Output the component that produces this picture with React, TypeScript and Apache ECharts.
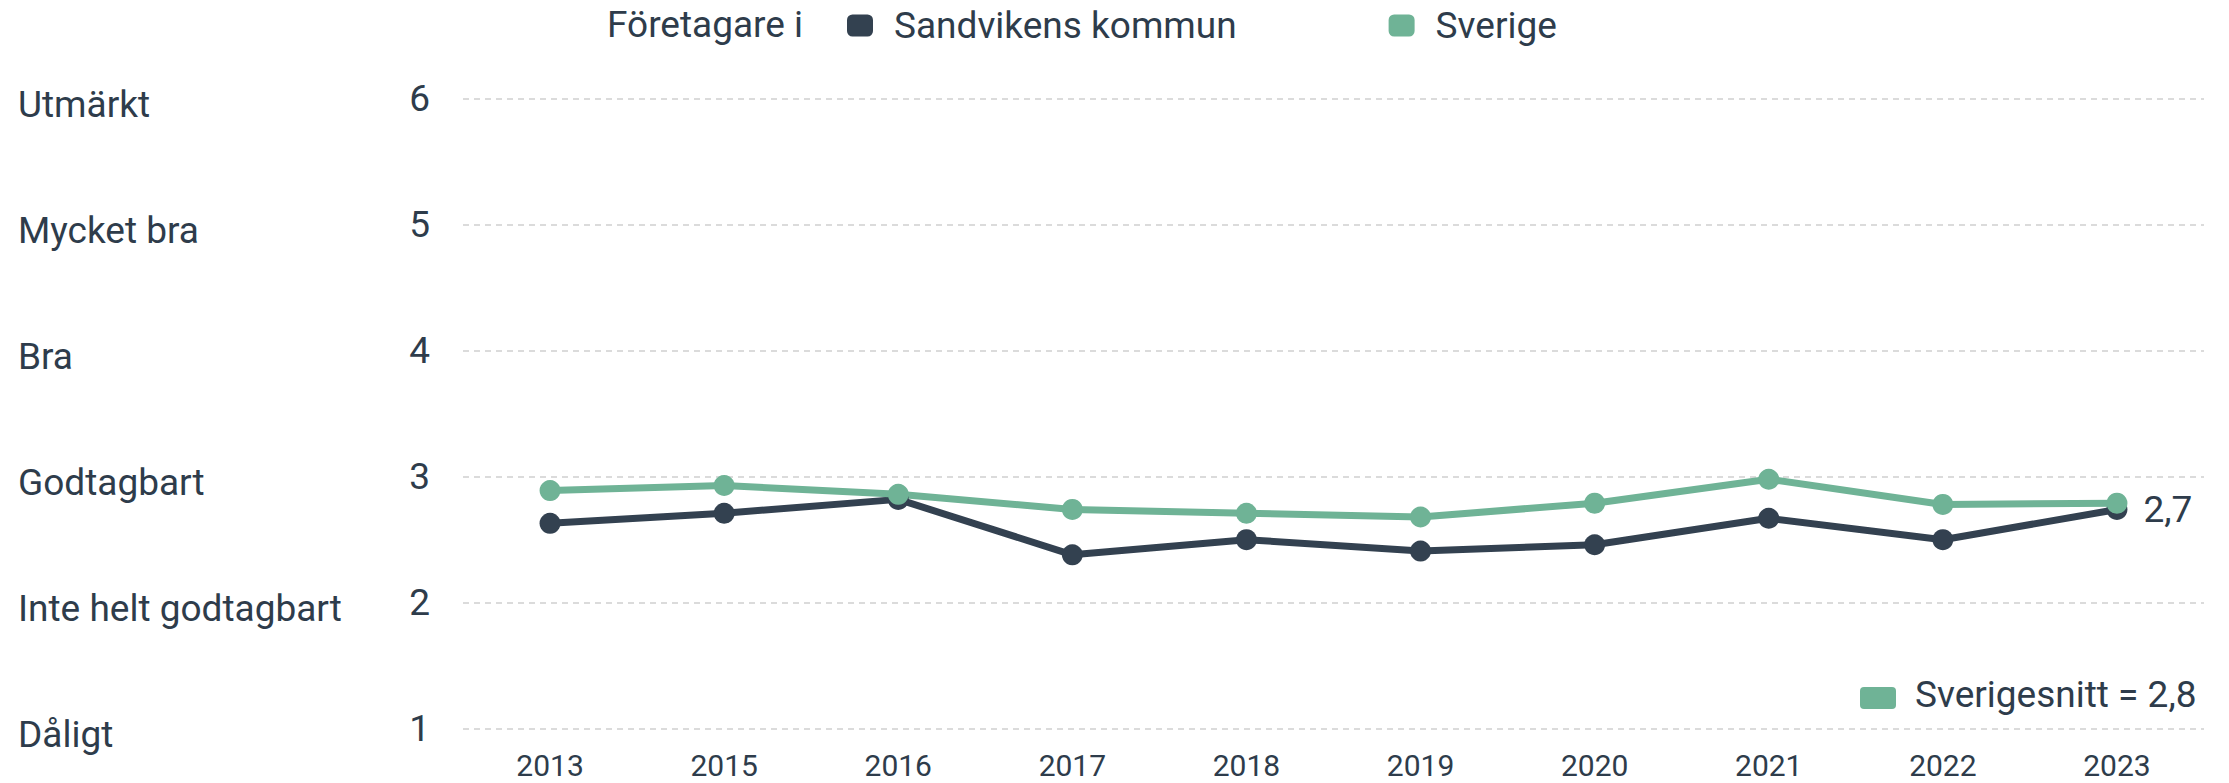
import React, { useEffect, useRef } from "react";
import * as echarts from "echarts";

const years = ["2013", "2015", "2016", "2017", "2018", "2019", "2020", "2021", "2022", "2023"];
const sandviken = [2.63, 2.71, 2.82, 2.38, 2.5, 2.41, 2.46, 2.67, 2.5, 2.74];
const sverige = [2.89, 2.93, 2.86, 2.74, 2.71, 2.68, 2.79, 2.98, 2.78, 2.79];
const gradeNames: Record<number, string> = {
  1: "Dåligt",
  2: "Inte helt godtagbart",
  3: "Godtagbart",
  4: "Bra",
  5: "Mycket bra",
  6: "Utmärkt",
};
const sverigeSnitt = 2.8;

const DARK = "#334150";
const GREEN = "#6fb396";
const TEXT = "#2e3c4b";
const FONT = "Roboto, 'Noto Sans', sans-serif";

const fmt = (v: number) => v.toFixed(1).replace(".", ",");

export default function App() {
  const ref = useRef<HTMLDivElement>(null);
  useEffect(() => {
    if (!ref.current) return;
    const chart = echarts.init(ref.current, undefined, { renderer: "svg" });
    const lastIdx = sandviken.length - 1;
    chart.setOption({
      animation: false,
      textStyle: { fontFamily: FONT },
      grid: { left: 463, right: 25, top: 98.7, bottom: 54.3, containLabel: false },
      legend: {
        left: 842,
        top: 2,
        itemWidth: 26,
        itemHeight: 22,
        itemGap: 152,
        icon: "roundRect",
        selectedMode: false,
        textStyle: { fontSize: 37, color: TEXT, fontFamily: FONT, padding: [0, 0, 0, 16] },
        data: ["Sandvikens kommun", "Sverige"],
      },
      xAxis: {
        type: "category",
        data: years,
        boundaryGap: true,
        axisLine: { show: false },
        axisTick: { show: false },
        axisLabel: { color: TEXT, fontSize: 30, lineHeight: 30, margin: 22, fontFamily: FONT },
      },
      yAxis: [
        {
          type: "value",
          min: 1,
          max: 6,
          interval: 1,
          axisLine: { show: false },
          axisTick: { show: false },
          axisLabel: { color: TEXT, fontSize: 37, margin: 33, fontFamily: FONT },
          splitLine: { lineStyle: { color: "#cfcfcf", type: [6, 5], width: 1.5 } },
        },
        {
          type: "value",
          position: "left",
          min: 1,
          max: 6,
          interval: 1,
          axisLine: { show: false },
          axisTick: { show: false },
          splitLine: { show: false },
          axisLabel: {
            color: TEXT,
            fontSize: 37,
            margin: 445,
            align: "left",
            fontFamily: FONT,
            formatter: (v: number) => (gradeNames[v] ? "{n|" + gradeNames[v] + "}" : ""),
            rich: {
              n: { fontSize: 37, color: TEXT, fontFamily: FONT, padding: [12, 0, 0, 0] },
            },
          },
        },
      ],
      series: [
        {
          name: "Sandvikens kommun",
          type: "line",
          data: sandviken.map((v, i) =>
            i === lastIdx
              ? {
                  value: v,
                  label: {
                    show: true,
                    position: "right",
                    distance: 16,
                    color: TEXT,
                    fontSize: 37,
                    fontFamily: FONT,
                    formatter: (p: any) => fmt(p.value),
                  },
                }
              : v
          ),
          color: DARK,
          symbol: "circle",
          symbolSize: 21,
          showAllSymbol: true,
          lineStyle: { width: 7, color: DARK },
          itemStyle: { color: DARK },
        },
        {
          name: "Sverige",
          type: "line",
          data: sverige,
          color: GREEN,
          symbol: "circle",
          symbolSize: 21,
          showAllSymbol: true,
          lineStyle: { width: 7, color: GREEN },
          itemStyle: { color: GREEN },
        },
      ],
      graphic: [
        {
          type: "text",
          left: 607,
          top: 6,
          style: { text: "Företagare i", fontSize: 37, fill: TEXT, fontFamily: FONT },
        },
        {
          type: "rect",
          left: 1860,
          top: 687,
          shape: { width: 36, height: 22, r: 4 },
          style: { fill: GREEN },
        },
        {
          type: "text",
          left: 1915,
          top: 698 - 22,
          style: {
            text: "Sverigesnitt = " + fmt(sverigeSnitt),
            fontSize: 37,
            fill: TEXT,
            fontFamily: FONT,
          },
        },
      ],
    });
    return () => chart.dispose();
  }, []);
  return (
    <div
      ref={ref}
      style={{ position: "fixed", left: 0, top: 0, width: 2229, height: 783, background: "#fff" }}
    />
  );
}
